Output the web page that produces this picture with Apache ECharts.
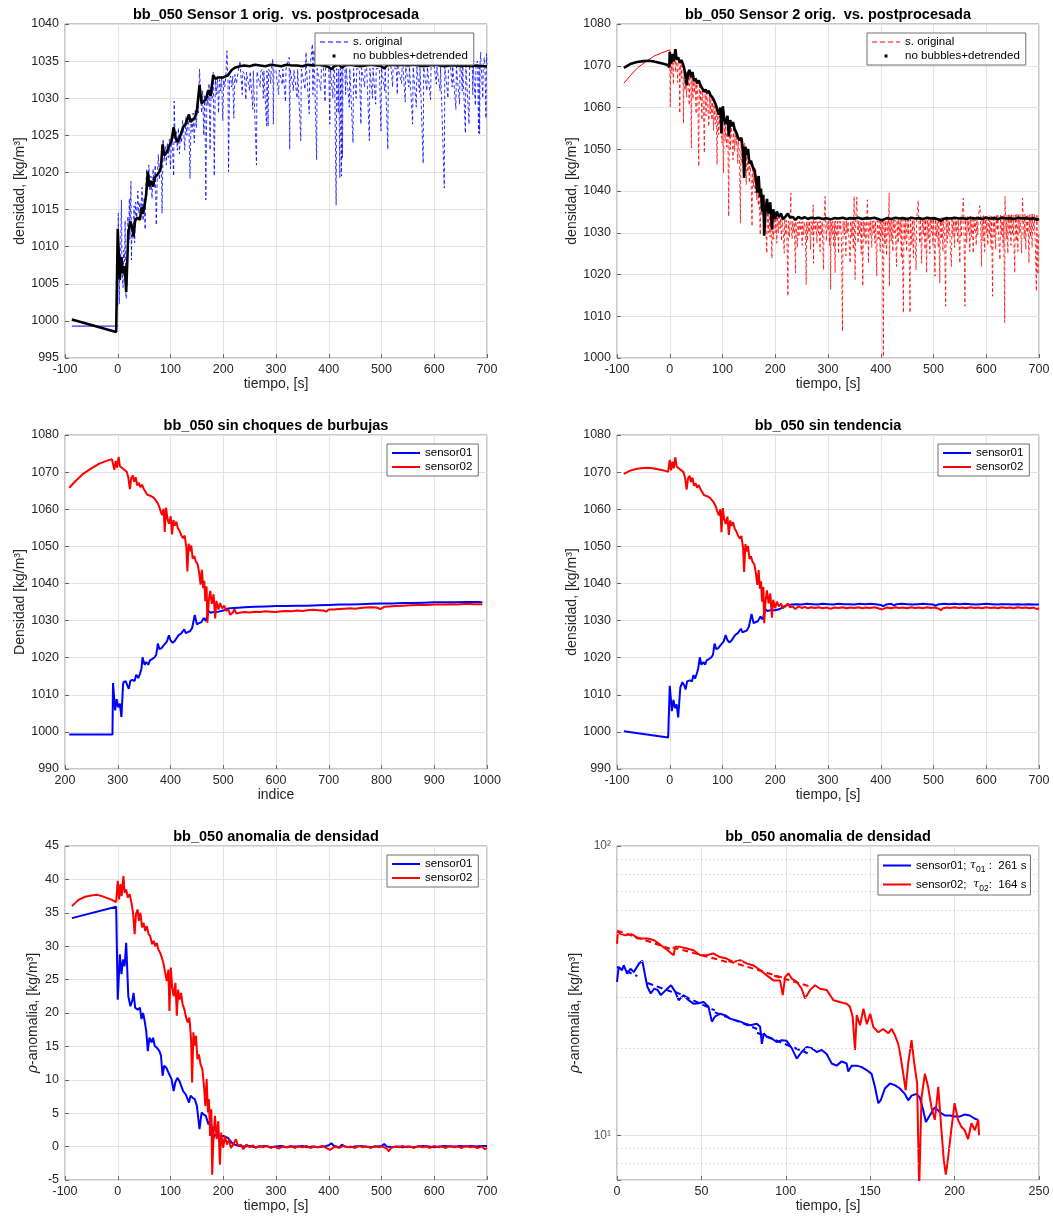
<!DOCTYPE html>
<html>
<head>
<meta charset="utf-8">
<title>bb_050 densidad</title>
<script src="https://cdn.jsdelivr.net/npm/echarts@6.0.0/dist/echarts.min.js"></script>
<style>
  html, body { margin: 0; padding: 0; background: #fff; }
  #chart { width: 1053px; height: 1217px; }
</style>
</head>
<body>
<div id="chart"></div>
<script>
// ---------- panel 1: sensor 1, original signal (tiempo [s], densidad) ----------
const s1OrigPre = [[-87, 999.3], [0, 999.3]];
const s1Orig = [
  [0, 1002.0], [1, 1014.5], [2, 1006.0], [3, 1002.3], [4, 1009.0], [5, 1005.5], [6, 1012.0], [7, 1016.3], [8, 1007.0],
  [10, 1004.5], [11, 1009.5], [13, 1008.0], [14, 1013.5], [15, 1004.0], [16, 1003.0], [18, 1006.0], [19, 1014.0],
  [21, 1012.0], [22, 1016.5], [23, 1011.0], [25, 1018.8], [26, 1008.2], [27, 1013.0], [29, 1011.0], [31, 1015.5],
  [32, 1010.5], [34, 1016.0], [36, 1013.5], [38, 1017.5], [40, 1014.5], [42, 1016.0], [44, 1014.0], [46, 1018.0],
  [48, 1013.5], [50, 1016.5], [52, 1012.3], [53, 1017.5], [55, 1020.5], [57, 1018.5], [59, 1021.0], [61, 1017.5],
  [63, 1019.5], [65, 1016.5], [67, 1020.5], [69, 1018.0], [71, 1021.0], [73, 1012.9], [75, 1019.5], [77, 1022.4],
  [79, 1019.0], [81, 1021.5], [83, 1019.5], [84, 1014.5], [86, 1024.5], [88, 1021.5], [90, 1023.5], [92, 1021.0],
  [94, 1024.0], [96, 1022.0], [98, 1024.5], [100, 1020.5], [102, 1025.0], [104, 1023.0], [106, 1019.5], [107, 1029.6],
  [109, 1024.0], [111, 1025.5], [113, 1023.0], [115, 1026.0], [117, 1022.5], [119, 1025.5], [121, 1024.0], [123, 1027.0],
  [125, 1025.5], [127, 1023.0], [129, 1027.5], [131, 1025.0], [133, 1027.5], [135, 1026.0], [137, 1019.2], [139, 1027.5],
  [141, 1025.5], [143, 1028.0], [145, 1024.0], [147, 1028.5], [149, 1026.0], [151, 1029.5], [153, 1028.0], [155, 1033.9],
  [157, 1030.5], [159, 1028.0], [161, 1031.0], [163, 1025.0], [165, 1030.5], [167, 1016.3], [169, 1031.0], [171, 1029.0],
  [173, 1032.0], [175, 1023.0], [177, 1031.5], [179, 1030.0], [181, 1033.5], [183, 1019.5], [185, 1032.5], [187, 1030.5],
  [189, 1033.0], [191, 1028.0], [193, 1032.5], [195, 1031.0], [197, 1033.0], [199, 1027.0], [201, 1032.5], [203, 1031.5],
  [205, 1033.0], [207, 1036.4], [209, 1032.5], [210, 1020.1], [212, 1032.5], [214, 1033.0], [216, 1031.5], [218, 1033.0],
  [220, 1027.3], [222, 1033.2], [225, 1032.0], [228, 1033.5], [230, 1033.4], [232, 1035.0], [233, 1033.5], [236, 1030.5],
  [237, 1033.6], [240, 1033.3], [243, 1029.8], [244, 1033.5], [247, 1033.7], [250, 1031.0], [251, 1033.6], [254, 1033.4],
  [256, 1028.5], [257, 1033.7], [260, 1033.5], [263, 1021.0], [264, 1033.6], [267, 1033.8], [270, 1031.5], [271, 1033.6],
  [274, 1033.9], [276, 1030.0], [277, 1033.7], [280, 1033.8], [282, 1026.3], [283, 1033.7], [285, 1026.2], [286, 1033.9],
  [288, 1033.6], [290, 1032.0], [291, 1033.8], [294, 1035.3], [295, 1026.5], [296, 1033.9], [300, 1033.7], [302, 1033.9],
  [305, 1030.5], [306, 1033.8], [309, 1034.0], [312, 1031.8], [313, 1033.9], [316, 1033.7], [318, 1029.5], [319, 1034.0],
  [322, 1033.8], [325, 1035.5], [326, 1023.1], [327, 1033.9], [330, 1034.0], [333, 1031.0], [334, 1033.8], [337, 1034.0],
  [340, 1030.0], [341, 1033.9], [344, 1034.1], [347, 1024.3], [348, 1033.9], [351, 1034.0], [355, 1031.2], [356, 1033.9],
  [357, 1036.2], [358, 1033.8], [361, 1034.0], [363, 1027.9], [364, 1033.9], [367, 1034.1], [369, 1037.3], [370, 1030.5],
  [371, 1033.9], [372, 1036.5], [373, 1034.0], [375, 1033.8], [377, 1021.7], [378, 1034.0], [381, 1034.1], [385, 1031.0],
  [386, 1033.9], [388, 1035.0], [390, 1034.0], [393, 1029.5], [394, 1034.1], [397, 1033.9], [400, 1034.0], [402, 1026.5],
  [403, 1034.0], [406, 1033.9], [408, 1030.0], [409, 1034.1], [411, 1033.8], [414, 1015.6], [415, 1034.0], [418, 1028.0],
  [419, 1033.9], [421, 1019.3], [422, 1034.0], [424, 1019.5], [425, 1033.8], [426, 1022.0], [427, 1034.0], [430, 1035.4],
  [432, 1030.5], [433, 1034.1], [436, 1033.9], [439, 1028.8], [440, 1034.0], [443, 1034.2], [446, 1024.0], [447, 1034.0],
  [450, 1034.1], [452, 1030.0], [453, 1034.0], [456, 1034.2], [458, 1033.9], [461, 1026.5], [462, 1034.1], [465, 1034.0],
  [468, 1031.5], [469, 1034.1], [470, 1035.0], [472, 1034.0], [474, 1034.2], [477, 1024.3], [478, 1034.0], [480, 1034.1],
  [483, 1030.0], [484, 1034.1], [486, 1034.2], [489, 1029.2], [490, 1034.0], [493, 1034.2], [496, 1034.0], [499, 1025.6],
  [500, 1034.1], [503, 1034.2], [506, 1031.0], [507, 1034.1], [509, 1034.0], [512, 1023.1], [513, 1034.2], [516, 1034.1],
  [518, 1034.3], [521, 1031.5], [522, 1034.1], [525, 1034.2], [528, 1034.0], [530, 1030.5], [531, 1034.2], [534, 1034.1],
  [538, 1032.0], [539, 1034.2], [540, 1035.2], [541, 1034.1], [545, 1029.5], [546, 1034.2], [549, 1034.1], [552, 1031.5],
  [553, 1034.2], [556, 1034.3], [559, 1026.5], [560, 1034.2], [563, 1034.1], [566, 1028.8], [567, 1034.2], [570, 1034.3],
  [572, 1030.8], [573, 1034.2], [576, 1034.1], [579, 1021.2], [580, 1034.2], [583, 1034.3], [586, 1031.0], [587, 1034.2],
  [590, 1034.1], [593, 1029.8], [594, 1034.3], [597, 1034.2], [600, 1034.3], [604, 1031.9], [605, 1034.2], [608, 1034.3],
  [611, 1031.0], [612, 1034.2], [615, 1034.4], [619, 1017.9], [620, 1034.3], [623, 1034.2], [626, 1030.0], [627, 1034.3],
  [630, 1035.0], [631, 1034.2], [634, 1031.5], [635, 1034.3], [638, 1034.4], [641, 1028.5], [642, 1034.3], [645, 1034.2],
  [648, 1029.2], [649, 1034.3], [650, 1035.3], [651, 1034.2], [653, 1031.0], [654, 1034.4], [656, 1034.3], [659, 1025.3],
  [660, 1034.4], [663, 1034.6], [666, 1026.5], [667, 1034.4], [670, 1034.8], [672, 1035.8], [673, 1030.5], [674, 1034.5],
  [676, 1034.7], [678, 1029.0], [679, 1034.5], [682, 1035.0], [684, 1025.3], [685, 1034.6], [686, 1025.2], [687, 1034.8],
  [688, 1036.2], [689, 1034.5], [692, 1030.0], [693, 1034.7], [695, 1035.5], [696, 1034.4], [698, 1027.3], [699, 1036.0],
  [700, 1034.5]
];

// ---------- panel 2: sensor 2, original signal ----------
const s2OrigPre = [[-87, 1065.8], [-75, 1067.6], [-60, 1069.6], [-45, 1071.0], [-30, 1072.3], [-15, 1073.1], [0, 1073.8]];
const s2Orig = [
  [0, 1073.8], [1, 1060.2], [2, 1072.5], [4, 1068.0], [5, 1073.0], [7, 1065.5], [8, 1071.5], [10, 1073.5], [11, 1068.5],
  [13, 1071.8], [15, 1066.0], [16, 1072.0], [18, 1070.5], [19, 1058.6], [20, 1071.0], [22, 1067.0], [23, 1071.5],
  [25, 1069.5], [26, 1056.2], [27, 1070.0], [29, 1064.0], [30, 1068.5], [32, 1062.5], [33, 1066.0], [35, 1067.8],
  [37, 1060.5], [38, 1068.5], [40, 1066.5], [41, 1050.3], [42, 1067.5], [44, 1062.0], [45, 1067.0], [47, 1063.5],
  [48, 1066.0], [50, 1058.5], [51, 1066.5], [53, 1063.0], [55, 1045.9], [56, 1066.0], [58, 1061.5], [59, 1065.0],
  [61, 1057.0], [62, 1064.5], [64, 1060.0], [65.6, 1049.1], [67, 1064.0], [69, 1058.0], [70, 1063.5], [72, 1060.5],
  [74, 1055.4], [75, 1063.0], [77, 1058.5], [78, 1062.5], [80, 1057.0], [81, 1062.0], [83, 1054.5], [84, 1061.5],
  [86, 1056.0], [88, 1060.0], [89.6, 1046.3], [91, 1059.0], [93, 1053.5], [94, 1058.0], [96, 1055.0], [97, 1059.5],
  [99, 1051.5], [100, 1060.0], [102, 1044.3], [103, 1057.5], [105, 1052.0], [106, 1056.5], [108, 1050.5], [110, 1057.0],
  [111.7, 1033.9], [113, 1056.5], [115, 1050.0], [116, 1056.0], [118, 1052.5], [120, 1047.5], [121, 1055.5], [123, 1049.5],
  [124, 1054.5], [126, 1051.0], [127, 1053.5], [129, 1046.5], [130, 1053.0], [132, 1048.5], [134, 1032.3], [135, 1052.5],
  [137, 1046.5], [138, 1052.0], [140, 1048.0], [141, 1043.5], [142, 1051.5], [144, 1046.0], [145, 1041.5], [146, 1050.0],
  [148, 1044.5], [149, 1049.0], [151, 1042.0], [152, 1047.5], [154, 1043.5], [156, 1031.5], [157, 1046.5], [159, 1041.0],
  [160, 1045.5], [162, 1039.5], [163, 1045.0], [165, 1037.9], [166, 1043.5], [168, 1036.5], [169, 1041.5], [171.6, 1029.5],
  [173, 1040.5], [175, 1034.0], [176, 1039.5], [178, 1033.0], [179, 1029.5], [180, 1037.5], [182, 1031.5], [184, 1025.1],
  [185, 1036.5], [187, 1030.0], [188, 1036.0], [190, 1029.0], [191, 1035.5], [193.7, 1023.9], [195, 1033.5], [197, 1028.5],
  [198, 1035.0], [200, 1030.0], [201, 1034.5], [203, 1027.5], [204, 1034.0], [206, 1029.9], [207, 1034.5], [209, 1031.0],
  [210, 1033.5], [212, 1028.0], [213, 1034.0], [215, 1030.5], [217, 1025.1], [218, 1033.5], [220, 1029.5], [221, 1033.0],
  [222, 1031.0], [224, 1014.8], [225, 1032.8], [227, 1029.0], [228, 1033.0], [229.6, 1039.5], [230, 1032.5], [232, 1028.5],
  [233, 1032.8], [235, 1030.0], [236, 1032.5], [238.5, 1020.4], [239, 1032.7], [242, 1026.5], [243, 1032.6], [245, 1029.0],
  [246, 1032.7], [248, 1030.5], [249, 1032.6], [251, 1027.0], [252, 1032.7], [254, 1029.5], [255, 1032.6], [257, 1031.0],
  [258.7, 1017.6], [259.5, 1032.7], [261, 1028.0], [262, 1032.6], [264, 1030.0], [265, 1032.8], [267, 1026.0], [268, 1032.7],
  [270, 1029.5], [271, 1032.6], [272, 1036.7], [272.6, 1022.7], [273.5, 1032.7], [276, 1030.5], [277, 1032.8], [279, 1027.5],
  [280, 1032.6], [282, 1030.0], [283, 1032.7], [285, 1025.5], [286, 1032.8], [288, 1029.5], [289, 1032.7], [291.5, 1021.1],
  [292.5, 1032.6], [294.6, 1038.7], [295.5, 1032.7], [297, 1028.0], [298, 1032.8], [300, 1030.5], [301, 1032.7], [303, 1027.0],
  [304, 1032.8], [305, 1016.4], [306, 1032.7], [308, 1029.5], [309, 1032.8], [311, 1026.5], [312, 1032.6], [313.6, 1020.4],
  [314.5, 1032.8], [317, 1029.0], [318, 1032.7], [320, 1025.0], [321, 1032.8], [323, 1030.5], [324, 1032.7], [325.5, 1028.0],
  [327.4, 1006.4], [328.5, 1032.8], [331, 1029.5], [332, 1032.7], [334, 1024.5], [335, 1032.8], [337, 1030.0], [338, 1032.7],
  [340, 1027.5], [342, 1022.7], [343, 1032.8], [345, 1029.0], [346, 1032.7], [348, 1026.0], [349.5, 1038.7], [351.4, 1018.8],
  [352.5, 1032.8], [354.6, 1038.5], [355.5, 1032.7], [357, 1027.5], [358, 1032.8], [360, 1029.5], [361, 1032.7], [363, 1025.0],
  [364, 1032.8], [366, 1017.2], [367, 1032.7], [369, 1029.0], [370, 1032.8], [372, 1027.0], [373, 1032.7], [374.8, 1037.9],
  [376.7, 1022.7], [377.7, 1032.8], [380, 1029.5], [381, 1032.9], [383, 1026.5], [384, 1032.8], [386, 1030.0], [387, 1032.9],
  [389, 1027.5], [390, 1032.8], [392.4, 1019.6], [393.5, 1032.9], [396, 1028.5], [397, 1032.8], [399, 1025.5], [400, 1033.0],
  [402, 1029.0], [403, 1032.9], [405, 1000.3], [406, 1033.0], [408, 1027.0], [409, 1032.9], [411, 1024.5], [412, 1033.0],
  [414, 1029.5], [416, 1039.5], [416.4, 1017.2], [417.5, 1033.0], [420, 1028.0], [421, 1033.1], [423, 1025.5], [424, 1033.0],
  [426, 1030.0], [427, 1033.1], [430, 1021.9], [431, 1033.0], [433, 1027.5], [434, 1033.1], [436, 1029.5], [437, 1033.0],
  [439, 1024.0], [440, 1033.1], [443, 1010.8], [444, 1033.2], [446, 1028.0], [447, 1033.1], [449, 1025.5], [450, 1033.2],
  [452, 1029.5], [453, 1033.1], [455.5, 1010.8], [456.5, 1033.2], [459, 1027.0], [460, 1033.1], [462, 1024.0], [463, 1033.2],
  [465, 1029.0], [467, 1021.1], [468, 1033.3], [471, 1037.7], [472, 1033.2], [474, 1027.5], [475, 1033.3], [477.6, 1022.7],
  [478.5, 1033.2], [481, 1029.5], [482, 1033.3], [484, 1026.0], [485, 1033.2], [487, 1020.4], [488, 1033.3], [490, 1028.5],
  [491, 1033.4], [493, 1025.0], [494, 1033.3], [496, 1030.0], [497, 1033.4], [499, 1027.0], [500, 1033.5], [502.8, 1019.6],
  [503.8, 1033.4], [506, 1029.0], [507, 1033.5], [509, 1026.5], [510, 1033.4], [512, 1018.0], [513, 1033.5], [515, 1028.5],
  [516, 1033.6], [518, 1025.5], [519, 1033.5], [521, 1030.0], [523, 1012.4], [524, 1033.6], [526, 1027.5], [527, 1033.7],
  [529, 1029.5], [530, 1033.6], [532, 1026.0], [534, 1021.9], [535, 1033.7], [537, 1029.0], [538, 1033.6], [540, 1026.5],
  [541, 1033.7], [543, 1030.0], [544, 1033.8], [546, 1027.5], [547, 1033.7], [550, 1022.7], [551, 1033.8], [553, 1029.0],
  [554, 1033.7], [556.5, 1038.3], [557.5, 1033.8], [559.6, 1012.4], [560.6, 1033.8], [563, 1027.5], [564, 1033.9], [566, 1030.0],
  [567, 1033.8], [569, 1025.5], [570, 1033.9], [572, 1029.0], [573, 1033.8], [575.4, 1025.1], [576.4, 1033.9], [578, 1030.5],
  [579, 1034.0], [581, 1027.0], [582, 1033.9], [584, 1029.5], [585, 1034.0], [588, 1036.5], [589, 1033.9], [591, 1021.9],
  [592, 1034.0], [594, 1028.0], [595, 1034.1], [597, 1025.5], [598, 1034.0], [600, 1030.0], [601, 1034.1], [603, 1027.0],
  [604, 1034.0], [606, 1029.5], [607, 1034.1], [609, 1026.5], [610, 1034.2], [612, 1014.8], [613, 1034.1], [615, 1029.0],
  [616, 1034.2], [618, 1026.0], [619, 1034.1], [621, 1030.5], [622, 1034.2], [624, 1027.5], [626, 1023.5], [627, 1034.2],
  [629, 1029.5], [630, 1034.3], [632, 1026.5], [633, 1034.2], [635, 1008.5], [635.5, 1038.7], [636.5, 1034.3], [638, 1028.5],
  [639, 1034.2], [641, 1025.0], [642, 1034.3], [644, 1030.0], [645, 1034.2], [647, 1027.0], [648, 1034.3], [650, 1029.5],
  [651, 1034.2], [654, 1020.4], [655, 1034.3], [657, 1028.0], [658, 1034.4], [660, 1025.5], [661, 1034.3], [663, 1030.0],
  [664, 1034.4], [667, 1025.1], [668.8, 1038.3], [669.8, 1034.3], [672, 1028.5], [673, 1034.4], [675, 1026.0], [676, 1034.3],
  [678, 1030.0], [679, 1034.4], [681, 1022.7], [682, 1034.3], [684, 1029.0], [685, 1034.4], [687, 1026.5], [688, 1034.5],
  [690, 1030.5], [691, 1034.4], [693, 1027.5], [695, 1016.0], [696, 1034.5], [698, 1020.0], [699, 1028.3], [700, 1030.0]
];

// ---------- no bubbles + detrended (black in panels 1-2, lines in panel 4) ----------
const s1Det = [
  [-87, 1000.2], [-3, 998.5], [0, 1012.4], [4, 1005.6], [7, 1008.6], [10, 1006.4], [13, 1007.4], [16, 1003.9],
  [20, 1011.9], [24, 1013.4], [28, 1012.4], [30, 1011.4], [33, 1013.6], [38, 1013.9], [42, 1013.6], [45, 1015.3],
  [48, 1014.4], [51, 1015.6], [54, 1017.1], [57, 1020.1], [60, 1018.1], [64, 1018.8], [67, 1018.1], [70, 1019.3],
  [74, 1019.6], [79, 1020.1], [82, 1020.8], [85, 1023.8], [88, 1022.3], [92, 1022.6], [96, 1023.3], [99, 1023.1],
  [102, 1024.3], [106, 1026.1], [109, 1024.8], [113, 1024.1], [117, 1024.6], [120, 1024.8], [124, 1026.1], [129, 1026.6],
  [132, 1026.6], [135, 1027.8], [138, 1026.8], [142, 1027.1], [146, 1027.3], [150, 1028.3], [155, 1031.8], [159, 1029.3],
  [163, 1029.6], [167, 1029.8], [172, 1031.1], [176, 1030.3], [181, 1033.1], [185, 1032.6], [191, 1032.8], [200, 1032.8],
  [209, 1033.1], [216, 1033.8], [222, 1034.1], [231, 1034.3], [240, 1034.4], [250, 1034.3], [260, 1034.5], [270, 1034.4],
  [280, 1034.3], [290, 1034.5], [300, 1034.4], [310, 1034.3], [320, 1034.5], [330, 1034.4], [340, 1034.4], [350, 1034.3],
  [360, 1034.5], [370, 1034.4], [380, 1034.5], [390, 1034.4], [400, 1034.2], [405, 1033.9], [410, 1034.3], [420, 1034.5],
  [425, 1034.1], [430, 1034.4], [440, 1034.5], [450, 1034.4], [460, 1034.3], [470, 1034.4], [480, 1034.5], [490, 1034.4],
  [500, 1034.3], [505, 1034.0], [510, 1034.4], [520, 1034.5], [530, 1034.4], [540, 1034.5], [550, 1034.4], [560, 1034.5],
  [570, 1034.4], [580, 1034.3], [590, 1034.4], [600, 1034.5], [610, 1034.4], [620, 1034.3], [630, 1034.4], [640, 1034.4],
  [650, 1034.3], [660, 1034.4], [670, 1034.3], [680, 1034.4], [690, 1034.3], [700, 1034.3]
];
const s2Det = [
  [-87, 1069.5], [-75, 1070.4], [-62, 1070.9], [-50, 1071.1], [-40, 1071.2], [-30, 1071.0], [-20, 1070.7], [-10, 1070.4],
  [-3, 1070.1], [-1, 1069.6], [0, 1073.3], [2.5, 1070.5], [5, 1072.8], [7.5, 1071.0], [10.7, 1074.0], [13, 1071.5],
  [16, 1072.0], [19, 1070.8], [22.6, 1071.3], [26, 1070.0], [29, 1068.5], [32, 1065.3], [34.6, 1068.3], [37.7, 1069.0],
  [40, 1067.3], [43, 1068.5], [46, 1066.3], [49, 1067.0], [52, 1065.8], [55, 1066.5], [58.5, 1065.3], [61.6, 1065.0],
  [65, 1063.8], [68, 1064.3], [71, 1063.5], [74, 1064.0], [77, 1063.0], [80.5, 1062.5], [83.6, 1061.8], [87, 1060.8],
  [90, 1059.5], [93, 1058.3], [96, 1060.0], [98, 1053.8], [100.6, 1060.3], [103, 1057.5], [106, 1056.0], [109.4, 1058.0],
  [112, 1053.1], [114.5, 1057.0], [117, 1055.5], [120, 1056.5], [123, 1054.8], [126.4, 1054.0], [129.6, 1052.8], [132.7, 1052.1],
  [135.8, 1052.8], [139, 1049.6], [141, 1043.1], [143.4, 1050.6], [146, 1048.6], [148.4, 1050.1], [151, 1046.6], [154, 1047.3],
  [157, 1045.8], [160.4, 1045.1], [163.5, 1042.6], [166, 1039.6], [168.5, 1043.6], [171, 1038.6], [173, 1040.6], [175, 1035.1],
  [177.4, 1039.1], [179, 1029.3], [181.8, 1035.6], [184.3, 1038.1], [187.4, 1034.6], [190.6, 1037.3], [193.7, 1030.8], [196, 1035.6],
  [200, 1033.3], [203, 1035.1], [207, 1033.8], [211, 1034.6], [214.5, 1033.3], [219, 1033.8], [224, 1034.6], [228, 1033.6],
  [233, 1033.8], [238, 1033.1], [244, 1033.8], [250, 1033.4], [256, 1033.7], [262, 1033.3], [268, 1033.6], [275, 1033.4],
  [282, 1033.6], [290, 1033.3], [297, 1033.5], [305, 1033.2], [312, 1033.5], [320, 1033.4], [328, 1033.6], [335, 1033.3],
  [342, 1033.5], [350, 1033.4], [358, 1033.6], [365, 1033.3], [372, 1033.5], [380, 1033.4], [388, 1033.6], [395, 1033.3],
  [402, 1033.0], [406, 1033.2], [412, 1033.5], [420, 1033.3], [428, 1033.6], [435, 1033.4], [442, 1033.5], [450, 1033.3],
  [458, 1033.6], [465, 1033.4], [472, 1033.5], [480, 1033.3], [488, 1033.6], [495, 1033.4], [502, 1033.5], [510, 1033.2],
  [514, 1032.8], [518, 1033.3], [525, 1033.5], [532, 1033.4], [540, 1033.6], [548, 1033.4], [555, 1033.5], [562, 1033.3],
  [570, 1033.6], [578, 1033.4], [585, 1033.5], [592, 1033.3], [600, 1033.6], [608, 1033.4], [615, 1033.5], [622, 1033.3],
  [630, 1033.6], [638, 1033.4], [645, 1033.5], [652, 1033.3], [660, 1033.6], [668, 1033.4], [675, 1033.5], [682, 1033.3],
  [690, 1033.5], [696, 1033.1], [700, 1033.3]
];

// ---------- panel 3: sin choques de burbujas (indice, densidad) ----------
const p3Sensor01 = [
  [208, 999.3], [290, 999.3], [291, 1013.2], [295, 1005.8], [298, 1008.8], [301, 1006.6], [304, 1007.6], [307, 1004.0],
  [310, 1012.6], [311, 1013.4], [315, 1013.7], [318, 1012.6], [321, 1011.6], [324, 1013.8], [328, 1014.0], [332, 1013.7],
  [335, 1015.4], [339, 1014.5], [342, 1015.6], [345, 1017.1], [347, 1020.1], [349, 1019.0], [351, 1018.1], [354, 1018.8],
  [358, 1018.1], [361, 1019.3], [365, 1019.6], [370, 1020.1], [373, 1020.8], [376, 1023.8], [379, 1022.3], [383, 1022.6],
  [387, 1023.3], [390, 1023.1], [393, 1024.3], [397, 1026.0], [400, 1024.7], [404, 1024.0], [408, 1024.5], [411, 1024.7],
  [415, 1026.0], [420, 1026.5], [423, 1026.5], [426, 1027.6], [429, 1026.6], [433, 1026.9], [437, 1027.1], [441, 1028.0],
  [446, 1031.5], [450, 1029.0], [454, 1029.3], [458, 1029.5], [463, 1030.7], [467, 1029.9], [472, 1032.6], [476, 1032.1],
  [482, 1032.3], [491, 1032.4], [500, 1032.7], [507, 1033.2], [513, 1033.3], [522, 1033.4], [540, 1033.6], [560, 1033.7],
  [580, 1033.8], [600, 1033.9], [620, 1033.9], [640, 1034.0], [660, 1034.0], [680, 1034.1], [700, 1034.2], [720, 1034.3],
  [740, 1034.3], [760, 1034.4], [780, 1034.5], [800, 1034.6], [820, 1034.6], [840, 1034.7], [860, 1034.7], [880, 1034.8],
  [900, 1034.9], [920, 1034.9], [940, 1034.9], [960, 1035.0], [980, 1035.0], [991, 1034.9]
];
const p3Sensor02 = [
  [208, 1065.8], [220, 1067.6], [235, 1069.6], [250, 1071.0], [265, 1072.3], [280, 1073.1], [289, 1073.5], [291, 1073.6],
  [293.5, 1070.6], [296, 1073.0], [298.5, 1071.2], [301.7, 1074.1], [304, 1071.6], [307, 1072.1], [310, 1070.9], [313.6, 1071.4],
  [317, 1070.1], [320, 1068.6], [323, 1065.4], [325.6, 1068.4], [328.7, 1069.1], [331, 1067.4], [334, 1068.6], [337, 1066.4],
  [340, 1067.1], [343, 1065.9], [346, 1066.6], [349.5, 1065.4], [352.6, 1065.1], [356, 1063.9], [359, 1064.4], [362, 1063.6],
  [365, 1064.1], [368, 1063.1], [371.5, 1062.6], [374.6, 1061.9], [378, 1060.9], [381, 1059.6], [384, 1058.4], [387, 1060.1],
  [389, 1053.9], [391.6, 1060.4], [394, 1057.6], [397, 1056.1], [400.4, 1058.1], [403, 1053.2], [405.5, 1057.1], [408, 1055.6],
  [411, 1056.6], [414, 1054.9], [417.4, 1054.1], [420.6, 1052.9], [423.7, 1052.2], [426.8, 1052.9], [430, 1049.7], [432, 1043.2],
  [434.4, 1050.7], [437, 1048.7], [439.4, 1050.2], [442, 1046.7], [445, 1047.4], [448, 1045.9], [451.4, 1045.2], [454.5, 1042.7],
  [457, 1039.7], [459.5, 1043.7], [462, 1038.7], [464, 1040.7], [466, 1035.2], [468.4, 1039.2], [470, 1029.4], [472.8, 1035.6],
  [475.3, 1038.0], [478.4, 1034.5], [481.6, 1037.1], [484.7, 1030.6], [487, 1035.3], [491, 1033.0], [494, 1034.7], [498, 1033.3],
  [502, 1034.0], [505.5, 1032.6], [510, 1032.9], [513, 1031.6], [517, 1032.0], [521, 1033.0], [525, 1031.9], [530, 1032.1],
  [540, 1032.3], [550, 1032.2], [560, 1032.4], [570, 1032.3], [580, 1032.5], [590, 1032.4], [600, 1032.3], [610, 1032.5],
  [620, 1032.6], [630, 1032.5], [640, 1032.7], [650, 1032.6], [660, 1032.8], [670, 1032.9], [680, 1032.8], [690, 1032.7],
  [695, 1032.4], [700, 1033.0], [710, 1033.0], [720, 1033.1], [730, 1033.2], [740, 1033.3], [750, 1033.2], [760, 1033.4],
  [770, 1033.5], [780, 1033.6], [790, 1033.5], [798, 1033.1], [805, 1033.7], [815, 1033.8], [825, 1033.9], [840, 1034.0],
  [855, 1034.1], [870, 1034.2], [885, 1034.2], [900, 1034.3], [915, 1034.3], [930, 1034.4], [945, 1034.3], [960, 1034.5],
  [975, 1034.4], [991, 1034.4]
];

// ---------- panel 5: anomalia de densidad (tiempo, kg/m3) ----------
const anom01 = [
  [-87, 34.2], [-3, 35.9], [0, 22.0], [4, 28.8], [7, 25.8], [10, 28.0], [13, 27.0], [16, 30.5], [20, 22.5], [24, 21.0],
  [28, 22.0], [30, 23.0], [33, 20.8], [38, 20.5], [42, 20.8], [45, 19.1], [48, 20.0], [51, 18.8], [54, 17.3], [57, 14.3],
  [60, 16.3], [64, 15.6], [67, 16.3], [70, 15.1], [74, 14.8], [79, 14.3], [82, 13.6], [85, 10.6], [88, 12.1], [92, 11.8],
  [96, 11.1], [99, 11.3], [102, 10.1], [106, 8.3], [109, 9.6], [113, 10.3], [117, 9.8], [120, 9.6], [124, 8.3], [129, 7.8],
  [132, 7.8], [135, 6.6], [138, 7.6], [142, 7.3], [146, 7.1], [150, 6.1], [155, 2.6], [159, 5.1], [163, 4.8], [167, 4.6],
  [172, 3.3], [176, 4.1], [181, 1.3], [185, 1.8], [191, 1.6], [200, 1.6], [209, 1.3], [216, 0.6], [222, 0.3], [231, 0.1],
  [240, 0.0], [250, 0.1], [260, -0.1], [270, 0.0], [280, 0.1], [290, -0.1], [300, 0.0], [310, 0.1], [320, -0.1], [330, 0.0],
  [340, 0.0], [350, 0.1], [360, -0.1], [370, 0.0], [380, -0.1], [390, 0.0], [400, 0.2], [405, 0.5], [410, 0.1], [420, -0.1],
  [425, 0.3], [430, 0.0], [440, -0.1], [450, 0.0], [460, 0.1], [470, 0.0], [480, -0.1], [490, 0.0], [500, 0.1], [505, 0.4],
  [510, 0.0], [520, -0.1], [530, 0.0], [540, -0.1], [550, 0.0], [560, -0.1], [570, 0.0], [580, 0.1], [590, 0.0], [600, -0.1],
  [610, 0.0], [620, 0.1], [630, 0.0], [640, 0.0], [650, 0.1], [660, 0.0], [670, 0.1], [680, 0.0], [690, 0.1], [700, 0.1]
];
const anom02 = [
  [-87, 36.0], [-75, 36.9], [-62, 37.4], [-50, 37.6], [-40, 37.7], [-30, 37.5], [-20, 37.2], [-10, 36.9], [-3, 36.6],
  [0, 39.8], [2.5, 37.0], [5, 39.3], [7.5, 37.5], [10.7, 40.5], [13, 38.0], [16, 38.5], [19, 37.3], [22.6, 37.8], [26, 36.5],
  [29, 35.0], [32, 31.8], [34.6, 34.8], [37.7, 35.5], [40, 33.8], [43, 35.0], [46, 32.8], [49, 33.5], [52, 32.3], [55, 33.0],
  [58.5, 31.8], [61.6, 31.5], [65, 30.3], [68, 30.8], [71, 30.0], [74, 30.5], [77, 29.5], [80.5, 29.0], [83.6, 28.3], [87, 27.3],
  [90, 26.0], [93, 24.8], [96, 26.5], [98, 20.3], [100.6, 26.8], [103, 24.0], [106, 22.5], [109.4, 24.5], [112, 19.6],
  [114.5, 23.5], [117, 22.0], [120, 23.0], [123, 21.3], [126.4, 20.5], [129.6, 19.3], [132.7, 18.6], [135.8, 19.3], [139, 16.1],
  [141, 9.6], [143.4, 17.1], [146, 15.1], [148.4, 16.6], [151, 13.1], [154, 13.8], [157, 12.3], [160.4, 11.6], [163.5, 9.1],
  [166, 6.1], [168.5, 10.1], [171, 5.1], [173, 7.1], [175, 1.6], [177.4, 5.6], [179, -4.2], [181.8, 2.1], [184.3, 4.6],
  [187.4, 1.1], [190.6, 3.8], [193.7, -2.7], [196, 2.1], [200, -0.2], [203, 1.6], [207, 0.3], [211, 1.1], [214.5, -0.2],
  [219, 0.3], [224, 1.1], [228, 0.1], [233, 0.3], [238, -0.4], [244, 0.3], [250, -0.1], [256, 0.2], [262, -0.2], [268, 0.1],
  [275, -0.1], [282, 0.1], [290, -0.2], [297, 0.0], [305, -0.3], [312, 0.0], [320, -0.1], [328, 0.1], [335, -0.2], [342, 0.0],
  [350, -0.1], [358, 0.1], [365, -0.2], [372, 0.0], [380, -0.1], [388, 0.1], [395, -0.2], [402, -0.5], [406, -0.3], [412, 0.0],
  [420, -0.2], [428, 0.1], [435, -0.1], [442, 0.0], [450, -0.2], [458, 0.1], [465, -0.1], [472, 0.0], [480, -0.2], [488, 0.1],
  [495, -0.1], [502, 0.0], [510, -0.3], [514, -0.7], [518, -0.2], [525, 0.0], [532, -0.1], [540, 0.1], [548, -0.1], [555, 0.0],
  [562, -0.2], [570, 0.1], [578, -0.1], [585, 0.0], [592, -0.2], [600, 0.1], [608, -0.1], [615, 0.0], [622, -0.2], [630, 0.1],
  [638, -0.1], [645, 0.0], [652, -0.2], [660, 0.1], [668, -0.1], [675, 0.0], [682, -0.2], [690, 0.0], [696, -0.4], [700, -0.2]
];

// ---------- panel 6: anomalia, log scale, 0-215 s, with exponential fits ----------
const log01 = [
  [0, 33.9], [1, 38.2], [3, 37.2], [4, 38.7], [6, 36.2], [8, 37.6], [10, 36.7], [13, 39.2], [15, 40.1], [17, 34.8], [18, 32.6],
  [20, 30.9], [22, 32.1], [24, 31.8], [26, 30.5], [29, 31.8], [32, 33.0], [34.5, 31.3], [36.5, 29.3], [39.5, 30.5], [42.4, 29.3],
  [45.3, 28.5], [48.3, 28.6], [51.3, 28.9], [54.2, 27.8], [56.2, 24.7], [58, 25.7], [61, 26.3], [64, 26.0], [67, 25.3], [70, 25.0],
  [73, 24.7], [76, 24.3], [79, 24.0], [82.8, 24.3], [84.8, 23.7], [85.8, 20.7], [87, 22.5], [88.7, 21.9], [91.7, 21.6], [94.6, 21.0],
  [97.6, 21.3], [100.5, 21.2], [103.5, 20.0], [106.5, 18.4], [109.4, 19.4], [112.4, 20.2], [115.3, 20.0], [118.3, 19.4], [121.3, 19.7],
  [124.2, 19.1], [127.2, 17.7], [130.1, 17.4], [133.1, 18.0], [136, 17.7], [137, 16.6], [139, 17.4], [142, 17.4], [145, 17.2],
  [147.9, 16.8], [150.8, 16.3], [152.8, 14.7], [154.8, 12.9], [156.2, 13.2], [158.7, 14.5], [161.7, 15.1], [164.6, 14.9],
  [167.6, 14.5], [170.5, 13.9], [172.5, 13.2], [174.5, 13.7], [177.4, 13.9], [179.4, 13.5], [181.4, 12.2], [183, 11.1],
  [185.3, 11.7], [188.3, 12.5], [191.3, 12.0], [194.2, 11.7], [197.2, 11.7], [200, 11.6], [203, 11.6], [206, 11.8], [209, 11.7],
  [212, 11.4], [214, 11.3]
];
const log02 = [
  [0, 45.9], [0.5, 50.5], [2, 49.7], [5, 49.1], [8, 49.7], [10, 49.1], [12, 47.9], [15, 47.9], [18, 47.9], [22, 47.2], [26, 45.4],
  [30, 43.6], [33.5, 41.9], [34.5, 44.8], [37.5, 44.8], [41.4, 44.2], [45.3, 43.6], [49.3, 41.9], [53, 41.9], [57, 42.5], [61, 41.3],
  [65, 40.8], [69, 39.7], [73, 40.3], [77, 39.2], [81, 38.6], [85, 37.2], [88.7, 35.7], [92.7, 34.3], [96.6, 34.3], [98.2, 30.5],
  [99.6, 35.2], [101.5, 36.3], [103.5, 34.8], [106.5, 33.9], [109.4, 32.1], [111.4, 29.7], [114.4, 31.8], [117.3, 33.0],
  [120.3, 32.1], [124.2, 31.8], [128.2, 29.3], [132, 28.9], [136, 28.5], [138, 27.8], [139.6, 25.7], [141, 19.7], [142, 26.0],
  [144, 24.0], [146, 27.4], [148, 24.2], [150, 26.3], [151.8, 23.7], [154.8, 22.7], [157.7, 23.3], [160.7, 22.5], [162.7, 23.3],
  [164.6, 22.2], [166.6, 20.7], [168, 18.7], [169.6, 16.3], [171, 14.3], [172.5, 17.7], [174.5, 21.3], [175.9, 18.1],
  [177.8, 15.1], [179, 6.5], [180.4, 13.5], [182.4, 16.3], [184.3, 14.7], [186.3, 12.5], [188.3, 11.3], [190.3, 14.7],
  [192.2, 10.4], [193.6, 8.2], [194.8, 7.3], [196.2, 8.4], [198, 10.4], [200, 12.9], [202, 11.3], [204, 10.7], [206, 10.4],
  [208, 9.7], [210, 11.0], [212, 10.4], [214, 11.3], [214.5, 10.0]
];
const fit01 = [
  [[0, 38.2], [12, 35.5]], [[18, 33.6], [34.5, 31.0]], [[34.5, 31.3], [58, 27.0]], [[58, 26.6], [83, 23.3]], [[83, 22.6], [113, 19.2]]
];
const fit02 = [
  [[0, 51.0], [33, 43.8]], [[33, 44.6], [66, 39.6]], [[66, 40.0], [100, 34.8]], [[93, 35.6], [115, 32.6]]
];
const logMinorGrid = [8, 9, 20, 30, 40, 50, 60, 70, 80, 90];

const titles = [
  'bb_050 Sensor 1 orig.  vs. postprocesada',
  'bb_050 Sensor 2 orig.  vs. postprocesada',
  'bb_050 sin choques de burbujas',
  'bb_050 sin tendencia',
  'bb_050 anomalia de densidad',
  'bb_050 anomalia de densidad'
];

// ---------- style ----------
const FONT = '"Liberation Sans", Helvetica, Arial, sans-serif';
const BLUE = '#0000ff', RED = '#ff0000', BLACK = '#000000';
const TXT = '#262626';
const colLeft = [65, 617], rowTop = [24, 435, 846];
const PW = 422, PH = 334;

// legend icons: the bbox points (M0,0 M28,14) keep the drawn part at its real size
const ICON_LINE = 'path://M0,0M28,14M0,6H28V8H0Z';
const ICON_DASH = 'path://M0,0M28,14M0,6.5H5V7.5H0ZM8,6.5H13V7.5H8ZM16,6.5H21V7.5H16ZM24,6.5H28V7.5H24Z';
const ICON_DOT = 'path://M0,0M28,14M12.5,5.5H15.5V8.5H12.5Z';

const chart = echarts.init(document.getElementById('chart'), null, { renderer: 'canvas' });

const grids = [], xAxes = [], yAxes = [], titleOpts = [];
for (let i = 0; i < 6; i++) {
  const left = colLeft[i % 2], top = rowTop[Math.floor(i / 2)];
  grids.push({
    left: left, top: top, width: PW, height: PH, containLabel: false, outerBoundsMode: 'none',
    show: true, borderColor: '#8e8e8e', borderWidth: 1, backgroundColor: '#fff'
  });
  titleOpts.push({
    text: titles[i], left: left + PW / 2, top: top - 17, textAlign: 'center', padding: 0,
    textStyle: { fontFamily: FONT, fontSize: 14.5, fontWeight: 'bold', color: '#000' }
  });
}

function plainNumber(v) { return String(v); }

function axisCommon(extra) {
  return Object.assign({
    type: 'value',
    nameLocation: 'middle',
    nameTextStyle: { fontFamily: FONT, fontSize: 14, color: TXT },
    axisLine: { show: false, onZero: false },
    axisTick: { show: true, inside: true, length: 4, lineStyle: { color: '#6b6b6b' } },
    axisLabel: { fontFamily: FONT, fontSize: 12.5, color: TXT, formatter: plainNumber },
    splitLine: { show: true, lineStyle: { color: '#e3e3e3', width: 1 } },
    minorTick: { show: false },
    silent: true
  }, extra);
}
function xAxisOf(gi, min, max, interval, name) {
  const a = axisCommon({ gridIndex: gi, position: 'bottom', min: min, max: max, interval: interval, name: name, nameGap: 17 });
  a.axisLabel = Object.assign({}, a.axisLabel, { margin: 5 });
  return a;
}
function yAxisOf(gi, min, max, interval, name, gap, extra) {
  const a = axisCommon(Object.assign({ gridIndex: gi, position: 'left', min: min, max: max, interval: interval, name: name, nameGap: gap, nameRotate: 90 }, extra || {}));
  a.axisLabel = Object.assign({}, a.axisLabel, { margin: 6 }, (extra && extra.axisLabel) || {});
  return a;
}

const DENS = 'densidad, [kg/m\u00b3]';
xAxes.push(xAxisOf(0, -100, 700, 100, 'tiempo, [s]'));
xAxes.push(xAxisOf(1, -100, 700, 100, 'tiempo, [s]'));
xAxes.push(xAxisOf(2, 200, 1000, 100, 'indice'));
xAxes.push(xAxisOf(3, -100, 700, 100, 'tiempo, [s]'));
xAxes.push(xAxisOf(4, -100, 700, 100, 'tiempo, [s]'));
xAxes.push(xAxisOf(5, 0, 250, 50, 'tiempo, [s]'));

const supDigits = { 1: '\u00b9', 2: '\u00b2', 3: '\u00b3' };
const rhoRich = { i: { fontFamily: '"DejaVu Serif", serif', fontStyle: 'italic', fontSize: 14, color: TXT } };
yAxes.push(yAxisOf(0, 995, 1040, 5, DENS, 36));
yAxes.push(yAxisOf(1, 1000, 1080, 10, DENS, 37));
yAxes.push(yAxisOf(2, 990, 1080, 10, 'Densidad [kg/m\u00b3]', 36));
yAxes.push(yAxisOf(3, 990, 1080, 10, DENS, 37));
yAxes.push(yAxisOf(4, -5, 45, 5, '{i|\u03c1}-anomalia, [kg/m\u00b3]', 25,
  { nameTextStyle: { fontFamily: FONT, fontSize: 14, color: TXT, rich: rhoRich } }));
yAxes.push(yAxisOf(5, 7, 100, null, '{i|\u03c1}-anomalia, [kg/m\u00b3]', 35, {
  type: 'log', logBase: 10, interval: undefined,
  nameTextStyle: { fontFamily: FONT, fontSize: 14, color: TXT, rich: rhoRich },
  axisLabel: {
    formatter: function (v) {
      const e = Math.log10(v), r = Math.round(e);
      return Math.abs(e - r) < 1e-6 ? '10' + (supDigits[r] || r) : '';
    }
  }
}));

function lineSeries(name, gi, data, color, width, dash, z) {
  return {
    name: name, type: 'line', xAxisIndex: gi, yAxisIndex: gi, data: data,
    symbol: 'none', showSymbol: false, animation: false, silent: true, clip: true,
    lineStyle: { color: color, width: width, type: dash || 'solid', cap: 'butt' },
    itemStyle: { color: color }, z: z || 2
  };
}

const DASH = [3.5, 2.5];
const series = [
  // panel 1
  lineSeries('s1 pre', 0, s1OrigPre, BLUE, 1),
  lineSeries('s. original', 0, s1Orig, BLUE, 0.8, DASH),
  lineSeries('no bubbles+detrended', 0, s1Det, BLACK, 2.6, null, 3),
  // panel 2
  lineSeries('s2 pre', 1, s2OrigPre, RED, 1),
  lineSeries('s. original', 1, s2Orig, RED, 0.8, DASH),
  lineSeries('no bubbles+detrended', 1, s2Det, BLACK, 2.6, null, 3),
  // panel 3
  lineSeries('sensor01', 2, p3Sensor01, BLUE, 2),
  lineSeries('sensor02', 2, p3Sensor02, RED, 2),
  // panel 4
  lineSeries('sensor01', 3, s1Det, BLUE, 2),
  lineSeries('sensor02', 3, s2Det, RED, 2),
  // panel 5
  lineSeries('sensor01', 4, anom01, BLUE, 2),
  lineSeries('sensor02', 4, anom02, RED, 2),
  // panel 6: minor log grid first, under the data
  {
    name: 'minor grid', type: 'line', xAxisIndex: 5, yAxisIndex: 5, data: [], silent: true, animation: false, z: 1,
    markLine: {
      silent: true, animation: false, symbol: ['none', 'none'], label: { show: false },
      lineStyle: { color: '#d4d4d4', type: [1.5, 2.5], width: 1 },
      data: logMinorGrid.map(function (v) { return { yAxis: v }; })
    }
  },
  lineSeries('sensor01', 5, log01, BLUE, 2)
];
fit01.forEach(function (seg, k) { series.push(lineSeries('fit01_' + k, 5, seg, BLUE, 2, [6, 4], 3)); });
series.push(lineSeries('sensor02', 5, log02, RED, 2, null, 4));
fit02.forEach(function (seg, k) { series.push(lineSeries('fit02_' + k, 5, seg, RED, 2, [6, 4], 5)); });

function legendBox(left, top, items, extra) {
  return Object.assign({
    left: left, top: top, orient: 'vertical', selectedMode: false,
    itemWidth: 28, itemHeight: 14, itemGap: 0,
    padding: [2, 6, 2, 5],
    backgroundColor: '#fff', borderColor: '#6e6e6e', borderWidth: 1, borderRadius: 0,
    itemStyle: { borderWidth: 0 },
    textStyle: { fontFamily: FONT, fontSize: 11.5, color: '#000' },
    data: items, z: 10
  }, extra || {});
}
const sensorItems = [
  { name: 'sensor01', icon: ICON_LINE, itemStyle: { color: BLUE } },
  { name: 'sensor02', icon: ICON_LINE, itemStyle: { color: RED } }
];
const legends = [
  legendBox(315, 33, [
    { name: 's. original', icon: ICON_DASH, itemStyle: { color: BLUE } },
    { name: 'no bubbles+detrended', icon: ICON_DOT, itemStyle: { color: BLACK } }
  ]),
  legendBox(867, 33, [
    { name: 's. original', icon: ICON_DASH, itemStyle: { color: RED } },
    { name: 'no bubbles+detrended', icon: ICON_DOT, itemStyle: { color: BLACK } }
  ]),
  legendBox(387, 444, sensorItems),
  legendBox(938, 444, sensorItems),
  legendBox(387, 855, sensorItems),
  legendBox(878, 855, sensorItems, {
    itemGap: 2, padding: [2, 4, 2, 5],
    formatter: function (name) {
      return name === 'sensor01' ? 'sensor01; {t|\u03c4}{s|01} :  261 s' : 'sensor02;  {t|\u03c4}{s|02}:  164 s';
    },
    textStyle: {
      fontFamily: FONT, fontSize: 11.5, color: '#000', lineHeight: 17,
      rich: {
        t: { fontFamily: '"DejaVu Serif", serif', fontStyle: 'italic', fontSize: 11.5, lineHeight: 17, color: '#000' },
        s: { fontFamily: FONT, fontSize: 8.5, lineHeight: 9, verticalAlign: 'bottom', color: '#000' }
      }
    }
  })
];

chart.setOption({
  animation: false,
  backgroundColor: '#ffffff',
  textStyle: { fontFamily: FONT },
  title: titleOpts,
  grid: grids,
  xAxis: xAxes,
  yAxis: yAxes,
  legend: legends,
  series: series
});
</script>
</body>
</html>
